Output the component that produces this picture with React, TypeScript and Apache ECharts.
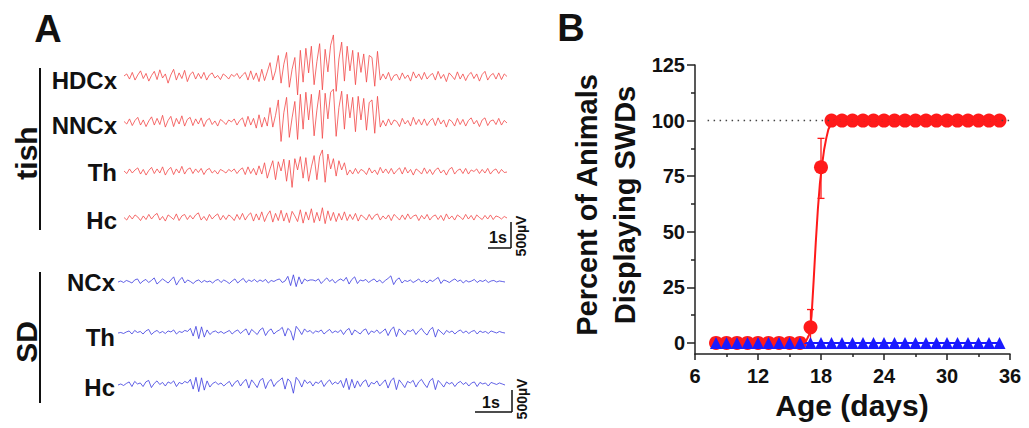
import React, { useEffect, useRef } from "react";
import * as echarts from "echarts";

// ---------- Panel A: EEG traces (µV, equally spaced samples) ----------
const tishHDCx = [
  20, 60, -40, 90, -60, 40, 120, -30, 70, -80,
  30, 110, -50, 140, -20, 60, -120, 40, 150, -60,
  80, -30, 130, -90, 50, 100, -40, 70, -30, 90,
  -60, 40, 80, -20, 30, -50, 60, 20, -40, 50,
  10, 70, -30, 40, 90, -60, 120, -50, 80, -90,
  150, -70, 100,
  280, -60, 120, 420, -120, 250, 480, -200, 150, 380,
  -350, 520, -100, 560, 80, 600, -150, 300, 650, -250,
  540, 100, 620, 820, -280, 350, 680, -80, 600, 120,
  520, -150, 480, 90, 450, -100, 420, 380, -180, 500,
  -60,
  60, -40, 90, -70, 30, 50, -60, 80, -30, 40,
  -80, 100, -20, 60, -50, 90, -40, 30, 70, -60,
  110, -30, 50, -90, 80, 20, -50, 100, -40, 60,
  -70, 40, 90, -30, 60, -80, 50, 110, -60, 30,
  70, -40, 80, -50, 60, 10,
];
const tishNNCx = [
  30, -20, 80, -50, 50, 110, -40, 60, -70, 40,
  120, -40, 90, -30, 150, -80, 50, 130, -70, 90,
  -20, 140, -60, 70, 110, -50, 80, -20, 100, -70,
  50, 90, -30, 40, -60, 70, 30, -30, 60, 20,
  80, -40, 50, 100, -70, 130, -40, 90, -100, 160,
  -80, 110, -60,
  300, -80, 150, 450, -360, 200, 500, -280, 100, 420,
  -320, 560, -120, 600, 60, 560, -250, 250, 640, -300,
  580, 80, 600, 660, -260, 300, 620, -120, 560, 100,
  500, -170, 520, 60, 480, -140, 400, 450, -200, 520,
  -80,
  50, -60, 80, -40, 60, 30, -70, 90, -20, 50,
  -60, 110, -30, 70, -40, 80, -50, 40, 90, -50,
  100, -20, 60, -80, 70, 30, -60, 90, -30, 70,
  -60, 50, 100, -20, 50, -70, 60, 100, -50, 40,
  60, -30, 90, -40, 50, 0,
];
const tishTh = [
  20, -30, 60, -20, 40, 80, -40, 50, -60, 30,
  90, -30, 60, -20, 100, -60, 40, 90, -50, 60,
  -20, 110, -40, 50, 80, -30, 60, -10, 70, -50,
  40, 70, -20, 30, -40, 50, 20, -20, 50, 10,
  60, -30, 40, 80, -50, 100, -30, 70, -60, 120,
  -40, 180, -120, 60, 220, -150, 200, 20,
  250, -180, 230, -300, 260, 40, 300, -120,
  280, -180, 100, 320, -150, 300, 430, -200,
  350, 60, 260, -80, 220, 40, 180, -60,
  40, -40, 70, -30, 50, 20, -50, 80, -20, 40,
  -50, 90, -20, 60, -30, 70, -40, 30, 80, -40,
  90, -20, 50, -60, 60, 20, -40, 80, -30, 50,
  -50, 40, 80, -20, 40, -60, 50, 90, -40, 30,
  60, -30, 70, -40, 40, 10, 60, -30, 50, -20,
  70, -40, 30, 60, -30, 50, -10, 0,
];
const tishHc = [
  10, -40, 50, -20, 60, 20, -50, 40, -30, 70,
  -20, 50, 90, -40, 30, -60, 60, 20, -30, 80,
  -50, 40, 70, -30, 50, -20, 60, 100, -40, 30,
  -50, 70, -20, 40, 80, -40, 50, -30, 60, 20,
  -50, 70, -30, 90, -40, 50, 100, -60, 80, -40,
  120, -70, 60, 140, -80, 90, -50, 150, -60, 100,
  -90, 130, 40, -70, 160, -100, 120, -40, 180, -90,
  110, -60, 200, -110, 140, -50, 110, -70, 90, -40,
  120, -50, 70, -30, 90, -60, 60, 20, -40, 70,
  -30, 50, 80, -40, 40, -20, 60, -50, 70, 20,
  -40, 60, -30, 80, -20, 40, 60, -50, 50, -20,
  70, -40, 30, 60, -30, 50, -50, 80, -20, 40,
  -40, 60, 20, -30, 70, -20, 50, -40, 60, 10,
  -30, 50, -20, 60, -30, 40, 20, -20, 30, 0,
];
const sdNCx = [
  0, 20, -10, 30, 10, -20, 40, 60, -30, 20,
  50, -10, 30, 80, -40, 10, 60, 20, -20, 40,
  100, -60, 30, 90, -20, 40, 10, -30, 20, 40,
  -10, 30, 0, 20, -20, 30, 50, -10, 40, 10,
  -30, 20, 60, -20, 30, 70, -10, 40, 10, 50,
  0, 40, 10, 50, -20, 30, 10, 40, 60, -10,
  20, 110, -70, 140, -90, 100, -40, 60, 20, 40,
  40, 20, 60, -30, 30, 80, 10, 50, -20, 30,
  60, 20, 90, -40, 50, 100, -30, 40, 20, 50,
  -10, 30, 60, 0, 40, -20, 30, 70, 120, -50,
  40, 80, -20, 30, 10, 40, -10, 20, 60, 0,
  30, -20, 40, 10, 50, 90, -30, 40, 20, -10,
  30, 60, 10, 40, -20, 30, 0, 20, 50, -10,
  30, 10, 40, -10, 20, 30, 0, 20, 10, 0,
];
const sdTh = [
  0, 10, -10, 20, 40, -20, 50, 10, 30, -20,
  40, 70, -30, 20, 50, 0, 30, -10, 40, 20,
  60, -20, 30, 10, 50, 30, 90, -60, 130, -110,
  120, -80, 60, -30, 20, 40, 0, 30, -10, 20,
  50, -20, 30, 60, -10, 40, 80, -40, 70, 20,
  -30, 60, 100, -50, 40, 80, -20, 30, 60, 110,
  -60, 90, 40, -140, 130, 60, -30, 80, 20, 50,
  -10, 40, 20, 60, -20, 30, 70, 0, 40, 10,
  60, -30, 50, 90, -40, 60, 20, -20, 50, 80,
  -30, 40, 10, 60, -10, 30, 80, -50, 60, 120,
  -70, 80, 20, -40, 50, 30, 70, -30, 40, 90,
  10, -40, 60, 110, -80, 70, 20, -30, 50, 10,
  40, -20, 30, 60, 0, 40, -10, 30, 50, -20,
  40, 10, 30, -10, 40, 20, 0, 30, 10, 0,
];
const sdHc = [
  0, 20, -10, 30, 60, -30, 70, 20, 40, -30,
  60, 90, -50, 30, 80, 10, 50, -20, 60, 30,
  80, -30, 50, 20, 70, 40, 110, -80, 150, -130,
  140, -100, 80, -40, 30, 60, 10, 40, -20, 30,
  70, -30, 50, 90, -20, 60, 110, -60, 100, 30,
  -50, 90, 130, -70, 60, 110, -30, 50, 90, 140,
  -80, 120, 60, -160, 150, 80, -40, 100, 30, 70,
  -20, 60, 30, 90, -30, 50, 100, 10, 60, 20,
  90, -50, 130, -90, 110, -60, 80, -30, 60, 100,
  -40, 50, 20, 80, -20, 40, 100, -60, 80, 140,
  -90, 100, 30, -50, 70, 40, 90, -40, 60, 110,
  20, -50, 80, 130, -90, 90, 30, -40, 60, 20,
  50, -30, 40, 70, 10, 50, -20, 40, 60, -30,
  50, 20, 40, -20, 50, 30, 10, 40, 20, 0,
];

// ---------- Panel B: percent of animals displaying SWDs ----------
const ages = [8, 9, 10, 11, 12, 13, 14, 15, 16, 17, 18, 19, 20, 21, 22, 23, 24, 25, 26, 27, 28, 29, 30, 31, 32, 33, 34, 35];
const tishPct = [0, 0, 0, 0, 0, 0, 0, 0, 0, 7, 79, 100, 100, 100, 100, 100, 100, 100, 100, 100, 100, 100, 100, 100, 100, 100, 100, 100];
const sdPct = [0, 0, 0, 0, 0, 0, 0, 0, 0, 0, 0, 0, 0, 0, 0, 0, 0, 0, 0, 0, 0, 0, 0, 0, 0, 0, 0, 0];
const errAge = [17, 18];
const errLow = [0, 65];
const errHigh = [15, 92];
const fitAge = [8, 16.3, 16.6, 16.9, 17.1, 17.3, 17.5, 17.7, 17.9, 18.1, 18.3, 18.5, 18.7, 19, 19.3, 35];
const fitPct = [0, 0, 1, 4, 12, 28, 45, 60, 72, 80, 87, 92, 96, 99, 100, 100];
const refAge = [7.2, 36];
const refPct = [100, 100];
const yTicks = [0, 25, 50, 75, 100, 125];
const yMinorTicks = [12.5, 37.5, 62.5, 87.5, 112.5];

const FONT = '"Liberation Sans", Arial, sans-serif';
const RED = "#ff1a1a";
const BLUE = "#1a1aff";
const TRACE_RED = "#f24848";
const TRACE_BLUE = "#3a3ae0";
const UV_MIN = -600;
const UV_MAX = 1000;
const UV_PER_PX = 19.5;

export default function App() {
  const ref = useRef<HTMLDivElement>(null);
  useEffect(() => {
    if (!ref.current) return;
    const chart = echarts.init(ref.current, null, { renderer: "svg" });

    const traces = [
      { data: tishHDCx, base: 77, left: 124, width: 383, color: TRACE_RED },
      { data: tishNNCx, base: 123, left: 124, width: 383, color: TRACE_RED },
      { data: tishTh, base: 172, left: 124, width: 383, color: TRACE_RED },
      { data: tishHc, base: 218, left: 124, width: 383, color: TRACE_RED },
      { data: sdNCx, base: 282, left: 118, width: 387, color: TRACE_BLUE },
      { data: sdTh, base: 333, left: 118, width: 387, color: TRACE_BLUE },
      { data: sdHc, base: 385, left: 118, width: 387, color: TRACE_BLUE },
    ];
    const B = traces.length;

    const grids: any[] = traces.map((t) => ({
      left: t.left,
      width: t.width,
      top: t.base - UV_MAX / UV_PER_PX,
      height: (UV_MAX - UV_MIN) / UV_PER_PX,
    }));
    grids.push({ left: 695, top: 65, width: 315, height: 289 });

    const xAxes: any[] = traces.map((t, i) => ({
      type: "category",
      gridIndex: i,
      show: false,
      boundaryGap: false,
      data: t.data.map((_, k) => k),
    }));
    const axisCol = "#222";
    xAxes.push({
      type: "value",
      gridIndex: B,
      min: 6,
      max: 36,
      interval: 6,
      axisLine: { show: true, onZero: false, lineStyle: { color: axisCol, width: 1.5 } },
      axisTick: { show: true, length: 6, lineStyle: { color: axisCol, width: 1.5 } },
      minorTick: { show: true, splitNumber: 2, length: 3, lineStyle: { color: axisCol, width: 1.5 } },
      splitLine: { show: false },
      axisLabel: { fontSize: 20, fontWeight: "bold", color: "#111", fontFamily: FONT, margin: 12 },
    });

    const yAxes: any[] = traces.map((_, i) => ({
      type: "value",
      gridIndex: i,
      show: false,
      min: UV_MIN,
      max: UV_MAX,
    }));
    yAxes.push({
      type: "value",
      gridIndex: B,
      position: "left",
      min: -5,
      max: 125,
      axisLine: { show: true, onZero: false, lineStyle: { color: axisCol, width: 1.5 } },
      axisTick: { show: true, length: 8, customValues: yTicks, lineStyle: { color: axisCol, width: 1.5 } },
      splitLine: { show: false },
      axisLabel: { customValues: yTicks, fontSize: 20, fontWeight: "bold", color: "#111", fontFamily: FONT, margin: 10 },
    });
    yAxes.push({
      type: "value",
      gridIndex: B,
      position: "left",
      offset: 0,
      min: -5,
      max: 125,
      axisLine: { show: false },
      axisTick: { show: true, length: 4, customValues: yMinorTicks, lineStyle: { color: axisCol, width: 1.5 } },
      splitLine: { show: false },
      axisLabel: { show: false },
    });

    const series: any[] = traces.map((t, i) => ({
      type: "line",
      xAxisIndex: i,
      yAxisIndex: i,
      data: t.data,
      symbol: "none",
      silent: true,
      lineStyle: { color: t.color, width: 0.8 },
    }));

    series.push({
      type: "line",
      xAxisIndex: B,
      yAxisIndex: B,
      data: refAge.map((a, i) => [a, refPct[i]]),
      symbol: "none",
      silent: true,
      lineStyle: { color: "#444", width: 1.5, type: [1.5, 4.5] },
    });
    series.push({
      type: "line",
      xAxisIndex: B,
      yAxisIndex: B,
      data: ages.map((a, i) => [a, sdPct[i]]),
      symbol: "triangle",
      symbolSize: [12, 12],
      itemStyle: { color: BLUE, opacity: 1 },
      lineStyle: { color: BLUE, width: 2 },
    });
    series.push({
      type: "line",
      xAxisIndex: B,
      yAxisIndex: B,
      data: fitAge.map((a, i) => [a, fitPct[i]]),
      symbol: "none",
      lineStyle: { color: RED, width: 2 },
    });
    series.push({
      type: "custom",
      xAxisIndex: B,
      yAxisIndex: B,
      data: errAge.map((a, i) => [a, errLow[i], errHigh[i]]),
      encode: { x: 0, y: [1, 2] },
      renderItem: (params: any, api: any) => {
        const x = api.value(0);
        const lo = api.coord([x, api.value(1)]);
        const hi = api.coord([x, api.value(2)]);
        const w = 3.5;
        const st = { stroke: RED, lineWidth: 1.3 };
        return {
          type: "group",
          children: [
            { type: "line", shape: { x1: hi[0], y1: hi[1], x2: lo[0], y2: lo[1] }, style: st },
            { type: "line", shape: { x1: hi[0] - w, y1: hi[1], x2: hi[0] + w, y2: hi[1] }, style: st },
            { type: "line", shape: { x1: lo[0] - w, y1: lo[1], x2: lo[0] + w, y2: lo[1] }, style: st },
          ],
        };
      },
    });
    series.push({
      type: "scatter",
      xAxisIndex: B,
      yAxisIndex: B,
      data: ages.map((a, i) => [a, tishPct[i]]),
      symbol: "circle",
      symbolSize: 14,
      itemStyle: { color: RED, opacity: 1 },
    });

    const txt = (text: string, x: number, y: number, size: number, align: string, rot = 0, extra: any = {}) => ({
      type: "text",
      x,
      y,
      rotation: rot,
      silent: true,
      style: {
        text,
        fill: "#111",
        fontSize: size,
        fontWeight: "bold",
        fontFamily: FONT,
        textAlign: align,
        align,
        textVerticalAlign: "middle",
        verticalAlign: "middle",
        ...extra,
      },
    });
    const ln = (x1: number, y1: number, x2: number, y2: number, w = 1.5) => ({
      type: "line",
      silent: true,
      shape: { x1, y1, x2, y2 },
      style: { stroke: "#111", lineWidth: w },
    });

    const graphic = [
      txt("A", 48, 29, 38, "center"),
      txt("B", 571, 28, 38, "center"),
      txt("HDCx", 117, 80, 24, "right"),
      txt("NNCx", 117, 125, 24, "right"),
      txt("Th", 117, 172, 24, "right"),
      txt("Hc", 117, 220, 24, "right"),
      txt("NCx", 115, 282, 24, "right"),
      txt("Th", 115, 337, 24, "right"),
      txt("Hc", 115, 387, 24, "right"),
      txt("tish", 26, 153, 30, "center", Math.PI / 2),
      txt("SD", 26, 342, 30, "center", Math.PI / 2),
      ln(40, 68, 40, 230, 2),
      ln(40, 272, 40, 403, 2),
      // scale bars
      ln(488, 248, 511, 248),
      ln(511, 222, 511, 248),
      txt("1s", 498, 237, 16, "center"),
      txt("500µV", 521, 236, 14, "center", Math.PI / 2),
      ln(475, 412, 512, 412),
      ln(512, 390, 512, 412),
      txt("1s", 491, 402, 16, "center"),
      txt("500µV", 522, 399, 14, "center", Math.PI / 2),
      // panel B titles
      txt("Percent of Animals\nDisplaying SWDs", 606, 205, 29, "center", Math.PI / 2, { lineHeight: 38 }),
      txt("Age (days)", 852, 405, 30, "center"),
    ];

    chart.setOption({
      animation: false,
      backgroundColor: "#ffffff",
      grid: grids,
      xAxis: xAxes,
      yAxis: yAxes,
      series,
      graphic,
    });
    return () => chart.dispose();
  }, []);

  return (
    <div
      ref={ref}
      style={{ position: "absolute", left: 0, top: 0, width: 1029, height: 428 }}
    />
  );
}
